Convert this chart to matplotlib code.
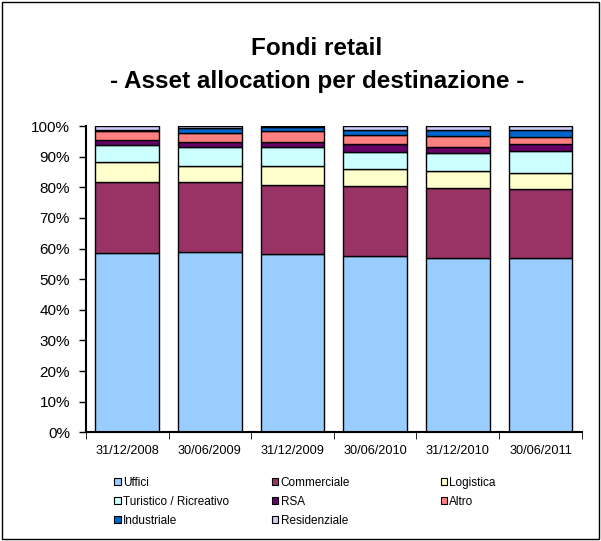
import matplotlib
matplotlib.use("Agg")
import matplotlib.pyplot as plt
from matplotlib.patches import Rectangle
import numpy as np

plt.rcParams["font.family"] = ["Liberation Sans", "DejaVu Sans"]

dates = ["31/12/2008", "30/06/2009", "31/12/2009",
         "30/06/2010", "31/12/2010", "30/06/2011"]

uffici = [58.5, 58.8, 58.2, 57.7, 56.9, 56.9]
commerciale = [23.1, 23.0, 22.7, 22.8, 22.8, 22.5]
logistica = [6.8, 5.3, 6.2, 5.5, 5.5, 5.2]
turistico = [5.3, 5.9, 5.9, 5.6, 6.1, 7.2]
rsa = [1.9, 1.9, 1.9, 2.4, 1.7, 2.5]
altro = [2.9, 2.9, 3.4, 3.0, 3.7, 2.2]
industriale = [0.1, 1.6, 1.4, 1.7, 2.0, 2.2]
residenziale = [1.4, 0.6, 0.3, 1.3, 1.3, 1.3]

series = [
    ("Uffici", uffici, "#99CCFF"),
    ("Commerciale", commerciale, "#993366"),
    ("Logistica", logistica, "#FFFFCC"),
    ("Turistico / Ricreativo", turistico, "#CCFFFF"),
    ("RSA", rsa, "#660066"),
    ("Altro", altro, "#FF8080"),
    ("Industriale", industriale, "#0066CC"),
    ("Residenziale", residenziale, "#CCCCFF"),
]

fig = plt.figure(figsize=(6.01, 5.41), dpi=100)
ax = fig.add_axes([0.143, 0.201, 0.825, 0.566])

x = np.arange(len(dates))
bottom = np.zeros(len(dates))
handles = {}
for name, vals, col in series:
    v = np.array(vals)
    b = ax.bar(x, v, 0.77, bottom=bottom, color=col,
               edgecolor="black", linewidth=1.0, label=name)
    handles[name] = b
    bottom += v

ax.set_xlim(-0.5, len(dates) - 0.5)
ax.set_ylim(0, 100)
ax.set_yticks(np.arange(0, 101, 10))
ax.set_yticklabels([f"{t}%" for t in range(0, 101, 10)], fontsize=11)
ax.set_xticks(x)
ax.set_xticklabels(dates, fontsize=9.2)
ax.set_xticks(np.arange(-0.5, len(dates), 1), minor=True)
ax.tick_params(axis="x", which="major", length=0, pad=9)
ax.tick_params(axis="x", which="minor", length=5, direction="out")
ax.tick_params(axis="y", length=5, width=1, direction="out", pad=6.5)

for s in ["top", "right"]:
    ax.spines[s].set_visible(False)
ax.spines["left"].set_linewidth(1.5)
ax.spines["bottom"].set_linewidth(1.5)

fig.text(0.527, 0.898, "Fondi retail", ha="center", va="baseline",
         fontsize=17.5, fontweight="bold")
fig.text(0.527, 0.837, "- Asset allocation per destinazione -",
         ha="center", va="baseline", fontsize=17.5, fontweight="bold")

columns = [
    (["Uffici", "Turistico / Ricreativo", "Industriale"], 0.19),
    (["Commerciale", "RSA", "Residenziale"], 0.452),
    (["Logistica", "Altro"], 0.733),
]
for names, xpos in columns:
    leg = fig.legend([handles[n] for n in names], names,
                     loc="upper left", bbox_to_anchor=(xpos, 0.119),
                     frameon=False, fontsize=8.5, handlelength=0.55,
                     handleheight=0.55, handletextpad=0.2,
                     labelspacing=0.6, borderpad=0, borderaxespad=0)
    for p in leg.get_patches():
        p.set_linewidth(0.8)

fig.patches.append(Rectangle((0.003, 0.003), 0.994, 0.994,
                             transform=fig.transFigure, fill=False,
                             edgecolor="black", linewidth=1.0))

fig.savefig("out.png", dpi=100)
